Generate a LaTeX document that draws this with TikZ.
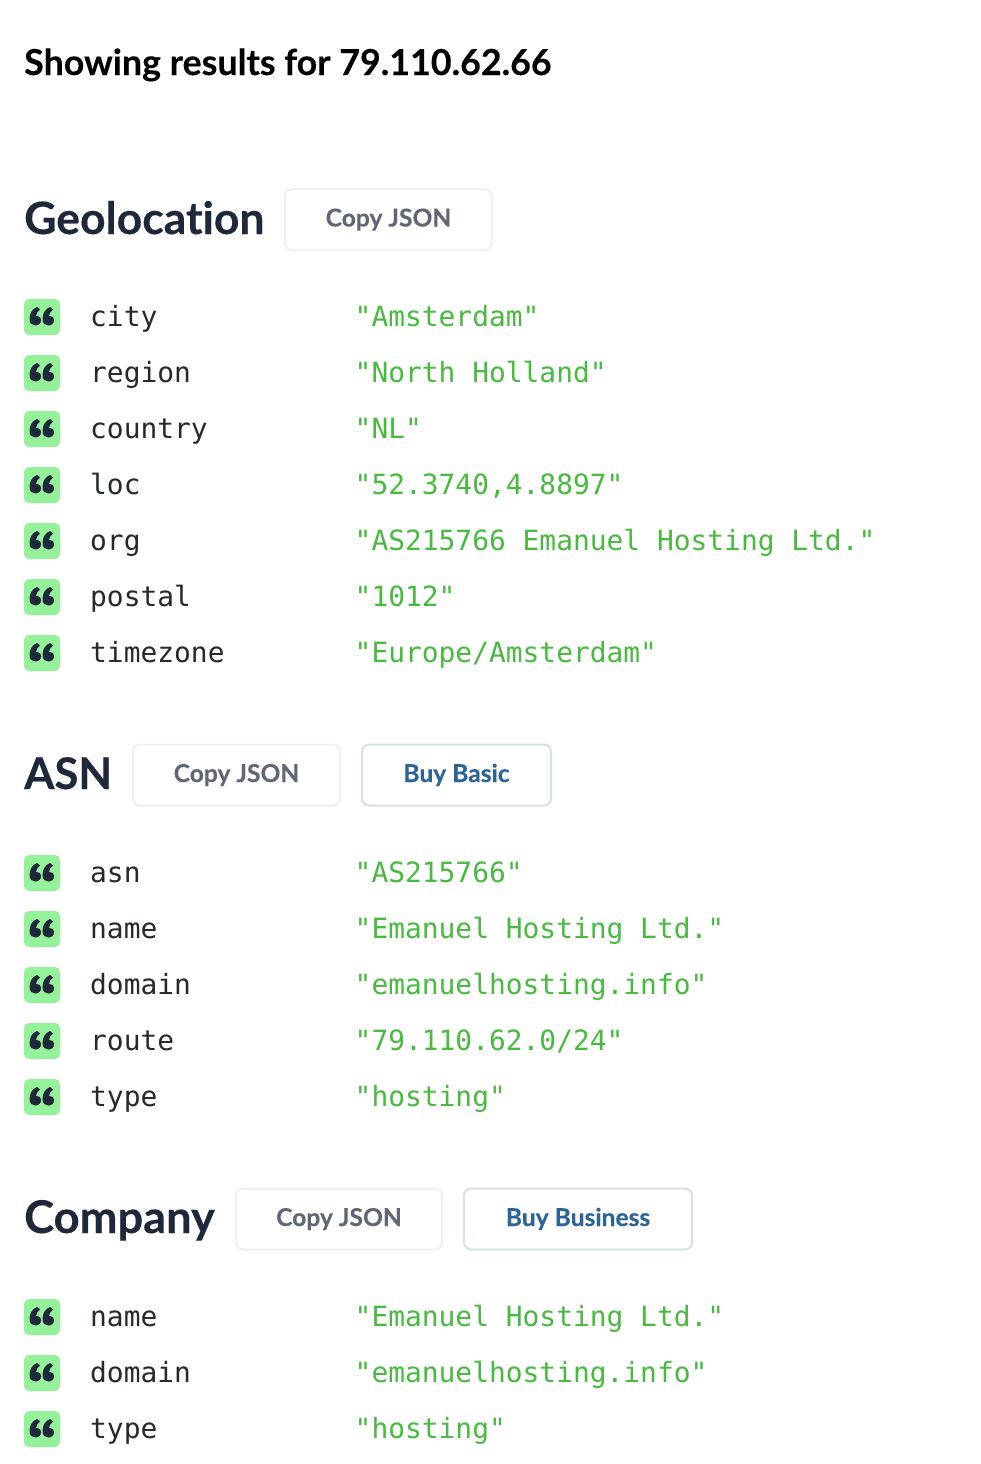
\documentclass[tikz,border=0pt]{standalone}
\usepackage{fontspec}
\setmainfont{Lato}[BoldFont={Lato Bold},BoldFeatures={FakeBold=0.25},Ligatures=NoCommon]
\newfontfamily\monof{DejaVu Sans Mono}
\definecolor{ink}{HTML}{1F273A}
\definecolor{monoink}{HTML}{24292E}
\definecolor{valgreen}{HTML}{48BA40}
\definecolor{iconbg}{HTML}{96F29A}
\definecolor{copyedge}{HTML}{EEF0F1}
\definecolor{copytext}{HTML}{5F6776}
\definecolor{buyedge}{HTML}{D6E2DF}
\definecolor{buytext}{HTML}{2A6499}
\tikzset{
  x=1pt,y=-1pt,
  pagetitle/.style={anchor=base west,inner sep=0pt,font=\fontsize{35.8}{35.8}\selectfont\bfseries,text=black},
  heading/.style={anchor=base west,inner sep=0pt,font=\fontsize{#1}{#1}\selectfont\bfseries,text=ink},
  heading/.default=44.5,
  copybtn/.style={draw=copyedge,line width=2pt,rounded corners=7pt,fill=white,minimum height=61pt,inner sep=0pt,text height=18pt,text depth=4pt,font=\fontsize{24.6}{24.6}\selectfont\bfseries,text=copytext},
  buybtn/.style={draw=buyedge,line width=2pt,rounded corners=7pt,fill=white,minimum height=61pt,inner sep=0pt,text height=18pt,text depth=4pt,font=\fontsize{24.6}{24.6}\selectfont\bfseries,text=buytext},
  iconbox/.style={fill=iconbg,rounded corners=5pt,minimum width=36pt,minimum height=36pt,inner sep=0pt},
  keytext/.style={anchor=base west,inner sep=0pt,font=\monof\fontsize{27.9}{27.9}\selectfont,text=monoink},
  valtext/.style={anchor=base west,inner sep=0pt,font=\monof\fontsize{27.9}{27.9}\selectfont,text=valgreen},
}
\newcommand{\qmark}[1]{%
  \fill[ink,shift={(#1,0)}] (1,-9.5) .. controls (-4,-7.5) and (-6.5,-3) .. (-6.5,3) .. controls (-6.5,7) and (-3.5,9) .. (-0.8,9)
    .. controls (2.5,9) and (5,7) .. (5,3.8) .. controls (5,0.5) and (2.5,-1) .. (0,-0.6) .. controls (0,-3) and (2,-5.5) .. (4,-7) -- cycle;}
\newcommand{\jrow}[4]{%
  \node[iconbox] (ic#4) at (42,#1) {};
  \begin{scope}[shift={(42,#1-0.5)}]\qmark{-6}\qmark{7}\end{scope}
  \node[keytext] (k#4) at (90,#1+9) {#2};
  \node[valtext] (v#4) at (354.5,#1+9) {#3};
}
\begin{document}
\begin{tikzpicture}
\useasboundingbox (0,0) rectangle (980,1464);
\fill[white] (0,0) rectangle (980,1464);
\node[pagetitle] (title) at (24,75) {Showing results for 79.110.62.66};

\node[heading] (geo) at (24,234) {Geolocation};
\node[copybtn,minimum width=207pt] (geocopy) at (388.5,219.5) {Copy JSON};
\jrow{317}{city}{"Amsterdam"}{a}
\jrow{373}{region}{"North Holland"}{b}
\jrow{429}{country}{"NL"}{c}
\jrow{485}{loc}{"52.3740,4.8897"}{d}
\jrow{541}{org}{"AS215766 Emanuel Hosting Ltd."}{e}
\jrow{597}{postal}{"1012"}{f}
\jrow{653}{timezone}{"Europe/Amsterdam"}{g}

\node[heading=43.6] (asn) at (24,789) {ASN};
\node[copybtn,minimum width=207pt] (asncopy) at (236.5,775) {Copy JSON};
\node[buybtn,minimum width=189pt] (asnbuy) at (456.5,775) {Buy Basic};
\jrow{873}{asn}{"AS215766"}{h}
\jrow{929}{name}{"Emanuel Hosting Ltd."}{i}
\jrow{985}{domain}{"emanuelhosting.info"}{j}
\jrow{1041}{route}{"79.110.62.0/24"}{k}
\jrow{1097}{type}{"hosting"}{l}

\node[heading=45.2] (co) at (24,1233) {Company};
\node[copybtn,minimum width=206pt] (cocopy) at (339,1219) {Copy JSON};
\node[buybtn,minimum width=228pt] (cobuy) at (578,1219) {Buy Business};
\jrow{1317}{name}{"Emanuel Hosting Ltd."}{m}
\jrow{1373}{domain}{"emanuelhosting.info"}{n}
\jrow{1429}{type}{"hosting"}{o}
\end{tikzpicture}
\end{document}
